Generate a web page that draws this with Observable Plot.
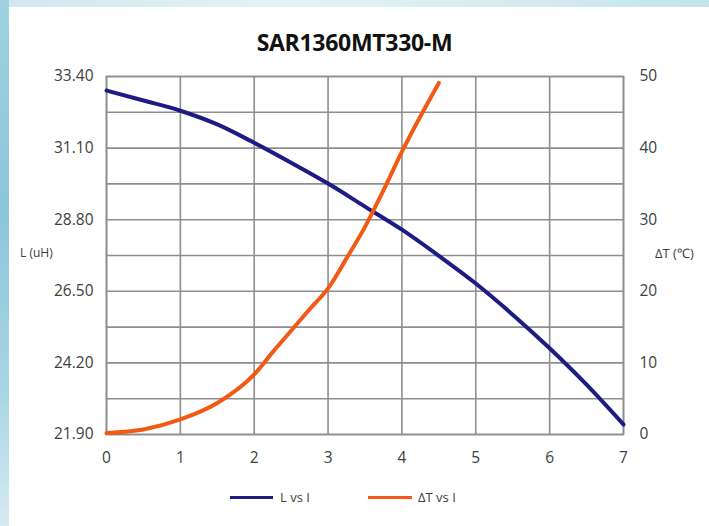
<!DOCTYPE html>
<html>
<head>
<meta charset="utf-8">
<script src="https://cdn.jsdelivr.net/npm/d3@7"></script>
<script src="https://cdn.jsdelivr.net/npm/@observablehq/plot@0.6"></script>
<style>
  html, body { margin: 0; padding: 0; }
  #wrap {
    position: relative; width: 709px; height: 526px; overflow: hidden;
    background: #fff; font-family: "Open Sans", sans-serif; color: #404040;
  }
  #leftstripe {
    position: absolute; left: 0; top: 0; width: 9px; height: 526px;
    background: linear-gradient(180deg, #9fd2e0 0%, #8cc6da 40%, #a9d6e4 75%, #d6ebf2 100%);
  }
  #topstripe {
    position: absolute; left: 0; top: 0; width: 709px; height: 7px;
    background: linear-gradient(90deg, #cfe8ee 0%, #e4f3f5 40%, #d3ecef 75%, #c3e4e8 100%);
  }
  #title {
    position: absolute; left: 0; width: 709px; top: 26px; text-align: center;
    font-size: 23px; font-weight: 700; color: #111; letter-spacing: -0.3px;
  }
  #chart { position: absolute; left: 0; top: 60px; }
  .ylab { position: absolute; font-size: 12px; color: #404040; }
  #legend { position: absolute; top: 488px; left: 0; width: 709px; height: 20px; font-size: 13px; }
  .sw { position: absolute; height: 3px; top: 8px; }
  .lt { position: absolute; top: 0px; }
</style>
</head>
<body>
<div id="wrap">
  <div id="topstripe"></div>
  <div id="leftstripe"></div>
  <div id="title">SAR1360MT330-M</div>
  <div id="chart"></div>
  <div class="ylab" style="left:20px; top:244px;">L (uH)</div>
  <div class="ylab" style="left:655px; top:244px; font-size:13px;">ΔT (℃)</div>
  <div id="legend">
    <div class="sw" style="left:230px; width:43px; background:#1c1c84;"></div>
    <div class="lt" style="left:280px;">L vs I</div>
    <div class="sw" style="left:368px; width:44px; background:#f05a14;"></div>
    <div class="lt" style="left:418px;">ΔT vs I</div>
  </div>
</div>
<script>
// Current I (A)
const currentL = [0, 0.5, 1, 1.5, 2, 2.5, 3, 3.5, 4, 4.5, 5, 5.5, 6, 6.5, 7];
// Inductance L (uH)
const inductance = [32.95, 32.63, 32.30, 31.86, 31.27, 30.63, 29.96, 29.22, 28.48, 27.64, 26.75, 25.75, 24.67, 23.50, 22.22];
// Current for temperature rise
const currentT = [0, 0.5, 1, 1.5, 2, 2.25, 2.5, 2.75, 3, 3.25, 3.5, 3.75, 4, 4.5];
// Temperature rise ΔT (°C)
const deltaT = [0.2, 0.7, 2.1, 4.4, 8.4, 11.5, 14.5, 17.5, 20.4, 24.6, 29.0, 34.1, 39.5, 49.1];

// Axis ticks
const xTicks = [0, 1, 2, 3, 4, 5, 6, 7];
const leftTicks = [21.9, 24.2, 26.5, 28.8, 31.1, 33.4];
const leftGrid = [21.9, 23.05, 24.2, 25.35, 26.5, 27.65, 28.8, 29.95, 31.1, 32.25, 33.4];
const rightTicks = [0, 10, 20, 30, 40, 50];

const Lmin = 21.9, Lmax = 33.4, Tmin = 0, Tmax = 50;
const t2l = t => Lmin + (t - Tmin) * (Lmax - Lmin) / (Tmax - Tmin);
const l2t = l => Tmin + (l - Lmin) * (Tmax - Tmin) / (Lmax - Lmin);

const lData = currentL.map((x, i) => ({x, y: inductance[i]}));
const tData = currentT.map((x, i) => ({x, y: t2l(deltaT[i])}));

const gridColor = "#8e8e8e";

const chart = Plot.plot({
  width: 709,
  height: 410,
  marginLeft: 106,
  marginRight: 86,
  marginTop: 16,
  marginBottom: 36,
  style: {fontFamily: "Open Sans, sans-serif", fontSize: "15.5px", color: "#404040", background: "transparent"},
  x: {domain: [0, 7]},
  y: {domain: [Lmin, Lmax]},
  marks: [
    Plot.ruleX(xTicks, {x: d => d, stroke: gridColor, strokeWidth: 1.6}),
    Plot.ruleY(leftGrid, {y: d => d, stroke: gridColor, strokeWidth: 1.6}),
    Plot.frame({stroke: gridColor, strokeWidth: 1.6}),
    Plot.axisX({ticks: xTicks, tickSize: 0, tickPadding: 17, label: null, tickFormat: d => String(d)}),
    Plot.axisY({ticks: leftTicks, tickSize: 0, tickPadding: 13, label: null, tickFormat: d => d.toFixed(2)}),
    Plot.axisY({anchor: "right", ticks: rightTicks.map(t2l), tickSize: 0, tickPadding: 16, label: null,
      tickFormat: d => String(Math.round(l2t(d)))}),
    Plot.line(lData, {x: "x", y: "y", stroke: "#1c1c84", strokeWidth: 4, curve: "monotone-x"}),
    Plot.line(tData, {x: "x", y: "y", stroke: "#f05a14", strokeWidth: 4, curve: "monotone-x"})
  ]
});
document.getElementById("chart").appendChild(chart);
</script>
</body>
</html>
